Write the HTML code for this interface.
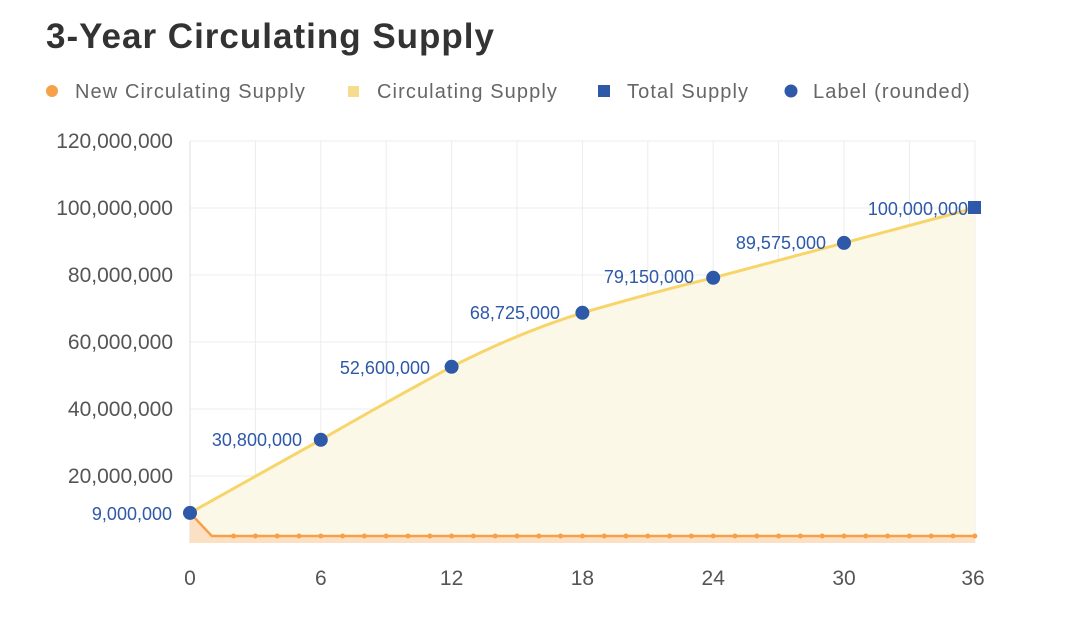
<!DOCTYPE html><html><head><meta charset="utf-8"><style>
body{margin:0;background:#fff;width:1080px;height:618px;overflow:hidden;font-family:"Liberation Sans",sans-serif}
</style></head><body>
<svg width="1080" height="618" xmlns="http://www.w3.org/2000/svg" font-family="Liberation Sans, sans-serif">
<text x="46" y="48" font-size="35" font-weight="bold" fill="#333" letter-spacing="1">3-Year Circulating Supply</text>
<g font-size="20" fill="#666" letter-spacing="1.1">
<circle cx="52" cy="91" r="6" fill="#f7a04a"/><text x="75" y="98">New Circulating Supply</text>
<rect x="348" y="86" width="11" height="11" fill="#f5dc8e"/><text x="377" y="98">Circulating Supply</text>
<rect x="598" y="85" width="12" height="12" fill="#2e58a8"/><text x="627" y="98">Total Supply</text>
<circle cx="791" cy="91" r="6.5" fill="#2e58a8"/><text x="813" y="98">Label (rounded)</text>
</g>
<g stroke="#ececec" stroke-width="1">
<line x1="190" y1="141" x2="975" y2="141"/><line x1="190" y1="208" x2="975" y2="208"/><line x1="190" y1="275" x2="975" y2="275"/><line x1="190" y1="342" x2="975" y2="342"/><line x1="190" y1="409" x2="975" y2="409"/><line x1="190" y1="476" x2="975" y2="476"/>
<line x1="255.4" y1="141" x2="255.4" y2="543"/><line x1="320.8" y1="141" x2="320.8" y2="543"/><line x1="386.2" y1="141" x2="386.2" y2="543"/><line x1="451.6" y1="141" x2="451.6" y2="543"/><line x1="517" y1="141" x2="517" y2="543"/><line x1="582.4" y1="141" x2="582.4" y2="543"/><line x1="647.8" y1="141" x2="647.8" y2="543"/><line x1="713.2" y1="141" x2="713.2" y2="543"/><line x1="778.6" y1="141" x2="778.6" y2="543"/><line x1="844" y1="141" x2="844" y2="543"/><line x1="909.4" y1="141" x2="909.4" y2="543"/><line x1="975" y1="141" x2="975" y2="543"/>
</g>
<line x1="190" y1="141" x2="190" y2="543" stroke="#ddd"/>
<path d="M190,512.9 L320.8,439.8 Q390,400 451.6,366.8 Q520,332 582.4,312.8 Q650,293 713.2,277.8 L844,242.9 L974.8,208 L974.8,543 L190,543Z" fill="#fcf8e8"/>
<path d="M190,512.9 L320.8,439.8 Q390,400 451.6,366.8 Q520,332 582.4,312.8 Q650,293 713.2,277.8 L844,242.9 L974.8,208" fill="none" stroke="#f7d56a" stroke-width="3"/>
<path d="M190,512.9 L211.8,536 L975,536 L975,543 L190,543Z" fill="#fbe0c4"/>
<polyline points="190,512.9 211.8,536 975,536" fill="none" stroke="#f7a04a" stroke-width="2.5"/>
<g fill="#2e58a8">
<circle cx="190" cy="512.9" r="7"/><circle cx="320.8" cy="439.8" r="7"/><circle cx="451.6" cy="366.8" r="7"/><circle cx="582.4" cy="312.8" r="7"/><circle cx="713.2" cy="277.8" r="7"/><circle cx="844" cy="242.9" r="7"/><rect x="968" y="201" width="13" height="13"/>
</g>
<g font-size="18" fill="#2e58a8" text-anchor="end">
<text x="172" y="520">9,000,000</text><text x="302" y="446">30,800,000</text><text x="430" y="374">52,600,000</text><text x="560" y="319">68,725,000</text><text x="694" y="283">79,150,000</text><text x="826" y="249">89,575,000</text><text x="968" y="215">100,000,000</text>
</g>
<g font-size="21" fill="#555" text-anchor="end">
<text x="173" y="148">120,000,000</text><text x="173" y="215">100,000,000</text><text x="173" y="282">80,000,000</text><text x="173" y="349">60,000,000</text><text x="173" y="416">40,000,000</text><text x="173" y="483">20,000,000</text>
</g>
<g font-size="21" fill="#555" text-anchor="middle">
<text x="190" y="585">0</text><text x="320.8" y="585">6</text><text x="451.6" y="585">12</text><text x="582.4" y="585">18</text><text x="713.2" y="585">24</text><text x="844" y="585">30</text><text x="973" y="585">36</text>
</g>
<g fill="#f7a04a">
<circle cx="233.6" cy="536" r="2.5"/><circle cx="255.4" cy="536" r="2.5"/><circle cx="277.2" cy="536" r="2.5"/><circle cx="299" cy="536" r="2.5"/><circle cx="320.8" cy="536" r="2.5"/><circle cx="342.6" cy="536" r="2.5"/><circle cx="364.4" cy="536" r="2.5"/><circle cx="386.2" cy="536" r="2.5"/><circle cx="408" cy="536" r="2.5"/><circle cx="429.8" cy="536" r="2.5"/><circle cx="451.6" cy="536" r="2.5"/><circle cx="473.4" cy="536" r="2.5"/><circle cx="495.2" cy="536" r="2.5"/><circle cx="517" cy="536" r="2.5"/><circle cx="538.8" cy="536" r="2.5"/><circle cx="560.6" cy="536" r="2.5"/><circle cx="582.4" cy="536" r="2.5"/><circle cx="604.2" cy="536" r="2.5"/><circle cx="626" cy="536" r="2.5"/><circle cx="647.8" cy="536" r="2.5"/><circle cx="669.6" cy="536" r="2.5"/><circle cx="691.4" cy="536" r="2.5"/><circle cx="713.2" cy="536" r="2.5"/><circle cx="735" cy="536" r="2.5"/><circle cx="756.8" cy="536" r="2.5"/><circle cx="778.6" cy="536" r="2.5"/><circle cx="800.4" cy="536" r="2.5"/><circle cx="822.2" cy="536" r="2.5"/><circle cx="844" cy="536" r="2.5"/><circle cx="865.8" cy="536" r="2.5"/><circle cx="887.6" cy="536" r="2.5"/><circle cx="909.4" cy="536" r="2.5"/><circle cx="931.2" cy="536" r="2.5"/><circle cx="953" cy="536" r="2.5"/><circle cx="974.8" cy="536" r="2.5"/>
</g>
</svg>
</body></html>
